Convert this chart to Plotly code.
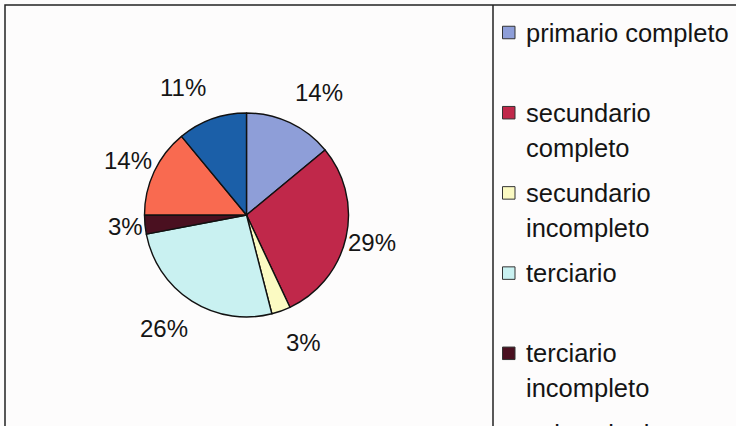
import math
import plotly.graph_objects as go

labels = ["primario completo", "secundario completo", "secundario incompleto",
          "terciario", "terciario incompleto", "universitario incompleto",
          "universitario completo"]
values = [14, 29, 3, 26, 3, 14, 11]
colors = ["#8e9ed8", "#c0284a", "#fbfac2", "#c9f1f1", "#4a1020", "#f96a50", "#1b5fa8"]

W, H = 736, 426
FONT = "Liberation Sans, Arial, sans-serif"
LABEL_SIZE = 24
LEGEND_SIZE = 25.5


def px(x):
    return x / W


def py(y):
    return 1 - y / H


cx, cy, r = 246.5, 215.0, 102.0

fig = go.Figure(go.Pie(
    labels=labels, values=values, sort=False, direction="clockwise", rotation=0,
    marker=dict(colors=colors, line=dict(color="#111111", width=1.4)),
    textinfo="none",
    showlegend=False, hoverinfo="label+percent",
    domain=dict(x=[px(cx - r), px(cx + r)], y=[py(cy + r), py(cy - r)]),
))

# percentage labels placed outside each slice, at the slice's mid-angle
char_w = {"%": 0.889}
total = sum(values)
annotations = []
acc = 0.0
Rx, Ry = 97.0, 123.0
for v in values:
    mid = (acc + v / 2) / total * 2 * math.pi
    acc += v
    txt = f"{round(v / total * 100)}%"
    hw = sum(char_w.get(c, 0.556) for c in txt) * LABEL_SIZE / 2
    hh = LABEL_SIZE * 0.575
    s, c = math.sin(mid), math.cos(mid)
    x = cx + Rx * s + math.copysign(hw + hh / 2, s)
    y = cy - Ry * c + math.copysign(hh, -c) * c * c
    annotations.append(dict(xref="paper", yref="paper", x=px(x), y=py(y),
                            xanchor="center", yanchor="middle", text=txt, showarrow=False,
                            font=dict(family=FONT, size=LABEL_SIZE, color="#151515")))

shapes = [
    dict(type="rect", xref="paper", yref="paper", x0=px(5), x1=px(W + 10),
         y0=py(H + 10), y1=py(5), line=dict(color="#222222", width=1.5)),
    dict(type="line", xref="paper", yref="paper", x0=px(493), x1=px(493),
         y0=py(H + 10), y1=py(5), line=dict(color="#222222", width=1.5)),
]
entry_gap, line_gap, first = 80.2, 35.0, 32.5
for i, (lab, col) in enumerate(zip(labels, colors)):
    yc = first + i * entry_gap
    shapes.append(dict(type="rect", xref="paper", yref="paper",
                       x0=px(502.5), x1=px(515), y0=py(yc + 6.25), y1=py(yc - 6.25),
                       fillcolor=col, line=dict(color="#333333", width=1)))
    lines = lab.split(" ", 1) if len(lab) > 17 else [lab]
    for k, t in enumerate(lines):
        annotations.append(dict(xref="paper", yref="paper", x=px(524), y=py(yc + k * line_gap),
                                xanchor="left", yanchor="middle", text=t, showarrow=False,
                                font=dict(family=FONT, size=LEGEND_SIZE, color="#151515")))

fig.update_layout(
    width=W, height=H, margin=dict(l=0, r=0, t=0, b=0),
    paper_bgcolor="#fdfcfc", plot_bgcolor="#fdfcfc",
    shapes=shapes, annotations=annotations,
)
fig.write_html("out.html")
